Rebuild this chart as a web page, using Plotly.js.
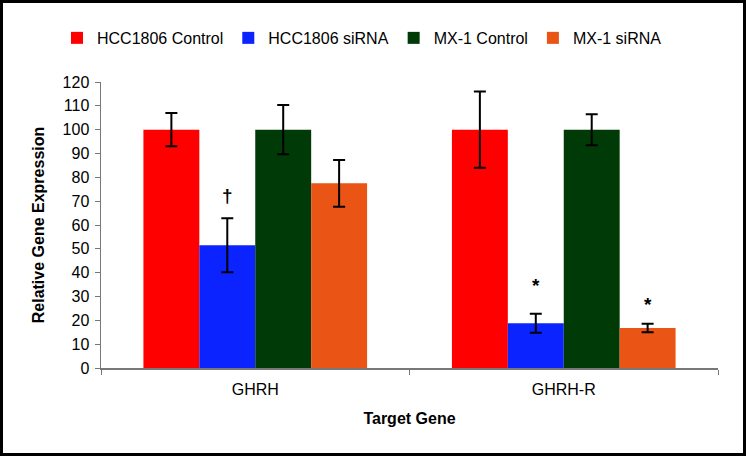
<!DOCTYPE html>
<html>
<head>
<meta charset="utf-8">
<script src="https://cdn.plot.ly/plotly-3.0.1.min.js"></script>
<style>
  html, body { margin: 0; padding: 0; background: #fff; }
  #chart { width: 740px; height: 450px; border: 3px solid #000; }
</style>
</head>
<body>
<div id="chart"></div>
<script>
const categories = ["GHRH", "GHRH-R"];
const seriesNames = ["HCC1806 Control", "HCC1806 siRNA", "MX-1 Control", "MX-1 siRNA"];
const hccControl = [100, 100];
const hccControlErr = [7, 16];
const hccSirna = [51.5, 18.8];
const hccSirnaErr = [11.3, 4];
const mxControl = [100, 100];
const mxControlErr = [10.3, 6.5];
const mxSirna = [77.5, 16.8];
const mxSirnaErr = [9.8, 1.8];
const colors = ["#FF0000", "#0B24FF", "#003A06", "#EA5414"];
const yTicks = [0, 10, 20, 30, 40, 50, 60, 70, 80, 90, 100, 110, 120];
// significance marks: [category index, series index, y value, text]
const marks = [[0, 1, 72.5, "†"], [1, 1, 34.5, "*"], [1, 3, 26.5, "*"]];

const values = [hccControl, hccSirna, mxControl, mxSirna];
const errs = [hccControlErr, hccSirnaErr, mxControlErr, mxSirnaErr];
const bargap = 0.275;

const traces = values.map((v, i) => ({
  type: "bar",
  name: seriesNames[i],
  x: categories,
  y: v,
  marker: { color: colors[i] },
  error_y: { type: "data", array: errs[i], visible: true, color: "#000", thickness: 2, width: 6 }
}));

const barW = (1 - bargap) / seriesNames.length;
const annotations = marks.map(m => ({
  x: m[0] + (m[1] - (seriesNames.length - 1) / 2) * barW,
  y: m[2],
  xref: "x", yref: "y",
  text: m[3],
  showarrow: false,
  font: { family: "Liberation Sans, Arial, sans-serif", size: 19, color: "#000", weight: "bold" }
}));

const layout = {
  width: 740, height: 450,
  margin: { l: 98, r: 25, t: 79, b: 85 },
  paper_bgcolor: "#fff", plot_bgcolor: "#fff",
  barmode: "group",
  bargap: bargap,
  bargroupgap: 0,
  font: { family: "Liberation Sans, Arial, sans-serif", color: "#000" },
  showlegend: true,
  legend: {
    orientation: "h",
    x: -0.0713, xanchor: "left", y: 1.154, yanchor: "middle",
    font: { size: 16, color: "#000" }, itemwidth: 30, traceorder: "normal",
    bgcolor: "rgba(0,0,0,0)"
  },
  xaxis: {
    type: "category",
    showline: true, linecolor: "#777", linewidth: 1.5,
    ticks: "outside", tickson: "boundaries", ticklen: 5, tickcolor: "#777",
    tickfont: { size: 16 }, ticklabelstandoff: 6,
    title: { text: "Target Gene", font: { size: 16, weight: "bold" }, standoff: 16 },
    showgrid: false, zeroline: false
  },
  yaxis: {
    range: [0, 120],
    tickvals: yTicks,
    showline: true, linecolor: "#777", linewidth: 1.5,
    ticks: "outside", ticklen: 5, tickcolor: "#777",
    tickfont: { size: 16 }, ticklabelstandoff: 2,
    title: { text: "Relative Gene Expression", font: { size: 16, weight: "bold" }, standoff: 14 },
    showgrid: false, zeroline: false
  },
  annotations: annotations
};

Plotly.newPlot("chart", traces, layout, { displayModeBar: false, staticPlot: true });
</script>
</body>
</html>
